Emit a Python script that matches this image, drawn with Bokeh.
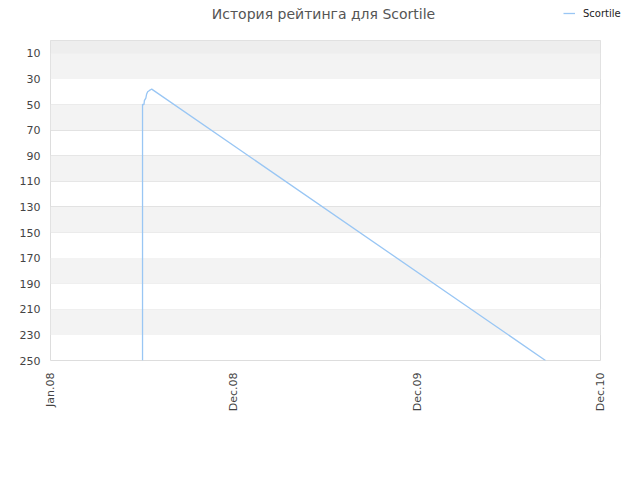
from bokeh.plotting import figure
from bokeh.models import Range1d, FixedTicker, BoxAnnotation, Legend, LegendItem
from bokeh.layouts import column
from bokeh.core.properties import value
from bokeh.embed import file_html
from bokeh.resources import INLINE
import math

# ---- data ----
title_text = "История рейтинга для Scortile"
series_name = "Scortile"
x_tick_pos = [0, 1, 2, 3]
x_tick_labels = ["Jan.08", "Dec.08", "Dec.09", "Dec.10"]
y_ticks = [10, 30, 50, 70, 90, 110, 130, 150, 170, 190, 210, 230, 250]
rank_x = [0.502, 0.502, 0.510, 0.512, 0.520, 0.524, 0.530, 0.540, 0.548, 0.552, 2.700]
rank_y = [250, 50, 50, 47, 45, 42, 40, 39, 38.3, 38, 250]

FONT = "DejaVu Sans"
LINE_COLOR = "#99c6f4"
W = 640
HEAD_H = 39
MAIN_H = 441
LEFT, RIGHT = 50, 40

# ---- header: title and legend ----
h = figure(width=W, height=HEAD_H, output_backend="svg", toolbar_location=None,
           x_range=Range1d(0, W), y_range=Range1d(HEAD_H, 0),
           min_border_left=0, min_border_right=0, min_border_top=0, min_border_bottom=0)
aligned = "frame_align" in h.properties()
if aligned:
    h.frame_align = False
else:
    # frame stays aligned with the chart's frame: map data x to page x
    h.x_range = Range1d(LEFT, W - RIGHT)
h.axis.visible = False
h.grid.visible = False
h.outline_line_color = None
h.background_fill_color = "white"
h.border_fill_color = "white"
h.text(x=[323], y=[13], text=[title_text], text_align="center", text_baseline="middle",
       text_font=value(FONT), text_font_size="14px", text_color="#555555")
# single-point line: draws nothing itself, only provides the legend sample
key = h.line(rank_x[:1], rank_y[:1], line_color=LINE_COLOR, line_width=1.3)
legend = Legend(items=[LegendItem(label=series_name, renderers=[key])],
                location=(563 if aligned else 503, HEAD_H - 20), orientation="horizontal",
                background_fill_alpha=0, border_line_color=None,
                padding=0, margin=0, spacing=0, glyph_width=12, glyph_height=14,
                label_height=14, label_standoff=8,
                label_text_font=FONT, label_text_font_size="10px",
                label_text_color="#222222", label_text_baseline="middle")
h.add_layout(legend, "center")

# ---- main chart ----
p = figure(width=W, height=MAIN_H, output_backend="svg", toolbar_location=None,
           x_range=Range1d(0, 3), y_range=Range1d(250, 0),
           min_border_left=LEFT, min_border_right=RIGHT, min_border_top=1, min_border_bottom=120)
if aligned:
    p.frame_align = False

p.background_fill_color = "white"
p.border_fill_color = "white"
p.outline_line_color = "#dddddd"
p.outline_line_width = 1

# bands
p.add_layout(BoxAnnotation(top=0, bottom=y_ticks[0], fill_color="#eeeeee", fill_alpha=1,
                           line_alpha=0, level="underlay"))
for i in range(0, len(y_ticks) - 1, 2):
    p.add_layout(BoxAnnotation(top=y_ticks[i], bottom=y_ticks[i + 1], fill_color="#f3f3f3",
                               fill_alpha=1, line_alpha=0, level="underlay"))

p.xgrid.grid_line_color = None
p.ygrid.grid_line_color = "#e2e2e2"
p.ygrid.ticker = FixedTicker(ticks=y_ticks)

p.xaxis.ticker = FixedTicker(ticks=x_tick_pos)
p.xaxis.major_label_overrides = {t: l for t, l in zip(x_tick_pos, x_tick_labels)}
p.xaxis.major_label_orientation = math.pi / 2
p.yaxis.ticker = FixedTicker(ticks=y_ticks)
for ax in (p.xaxis[0], p.yaxis[0]):
    ax.axis_line_color = None
    ax.major_tick_line_color = None
    ax.minor_tick_line_color = None
    ax.major_tick_out = 0
    ax.major_tick_in = 0
    ax.major_label_text_font = FONT
    ax.major_label_text_font_size = "11px"
    ax.major_label_text_color = "#444444"
p.xaxis.major_label_standoff = 12
p.yaxis.major_label_standoff = 10

p.line(rank_x, rank_y, line_color=LINE_COLOR, line_width=1.3)

layout = column(h, p, spacing=0)
open("out.html", "w").write(file_html(layout, INLINE))
